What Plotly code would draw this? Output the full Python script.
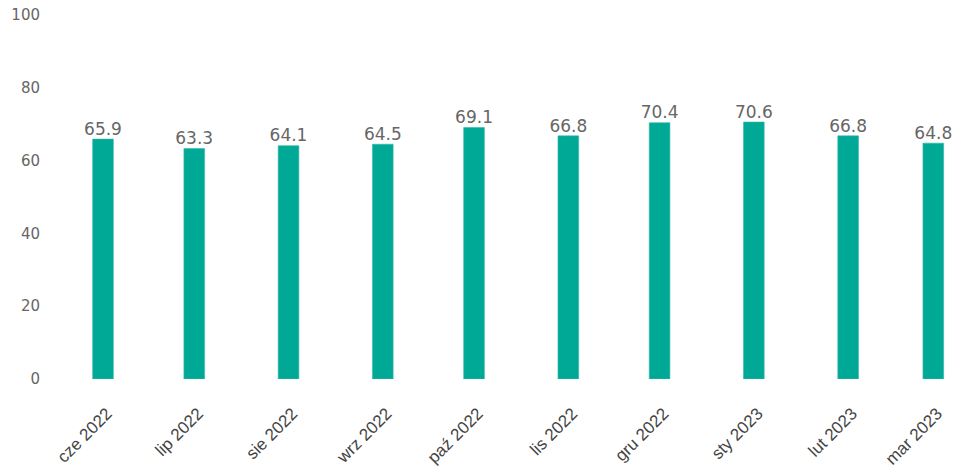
import plotly.graph_objects as go

categories = ["cze 2022", "lip 2022", "sie 2022", "wrz 2022", "paź 2022",
              "lis 2022", "gru 2022", "sty 2023", "lut 2023", "mar 2023"]
months = ["2022-06-01", "2022-07-01", "2022-08-01", "2022-09-01", "2022-10-01",
          "2022-11-01", "2022-12-01", "2023-01-01", "2023-02-01", "2023-03-01"]
values = [65.9, 63.3, 64.1, 64.5, 69.1, 66.8, 70.4, 70.6, 66.8, 64.8]
y_ticks = [0, 20, 40, 60, 80, 100]

DAY_MS = 86400000

fig = go.Figure()
fig.add_trace(go.Bar(
    x=months,
    y=values,
    marker=dict(color="#00A896", line=dict(width=0.6, color="#33B9A9")),
    width=[6.8 * DAY_MS] * len(months),
    hoverinfo="y",
))
fig.add_trace(go.Scatter(
    x=months,
    y=values,
    mode="text",
    text=[f"{v:.1f}" for v in values],
    textposition="top center",
    cliponaxis=False,
    textfont=dict(family="DejaVu Sans", size=17, color="#666666"),
    hoverinfo="skip",
))

fig.update_layout(
    width=953, height=469,
    margin=dict(l=57, r=0, t=15, b=90),
    paper_bgcolor="white", plot_bgcolor="white",
    showlegend=False,
    xaxis=dict(
        type="date",
        tickmode="array",
        tickvals=months,
        ticktext=categories,
        tickangle=-45,
        range=["2022-05-16 21:00", "2023-03-07 11:30"],
        automargin=False,
        showgrid=False, zeroline=False, showline=False,
        tickfont=dict(family="Liberation Sans", size=17, color="#444444"),
        ticks="outside", ticklen=17, tickcolor="rgba(0,0,0,0)",
        ticklabelshift=4,
    ),
    yaxis=dict(
        range=[0, 100],
        tickvals=y_ticks,
        automargin=False,
        showgrid=False, zeroline=False, showline=False,
        tickfont=dict(family="DejaVu Sans", size=15, color="#666666"),
        ticks="outside", ticklen=13, tickcolor="rgba(0,0,0,0)",
    ),
)

fig.write_html(
    "out.html",
    config={"displayModeBar": False},
    post_script="document.body.style.margin='0';document.body.style.overflow='hidden';",
)
